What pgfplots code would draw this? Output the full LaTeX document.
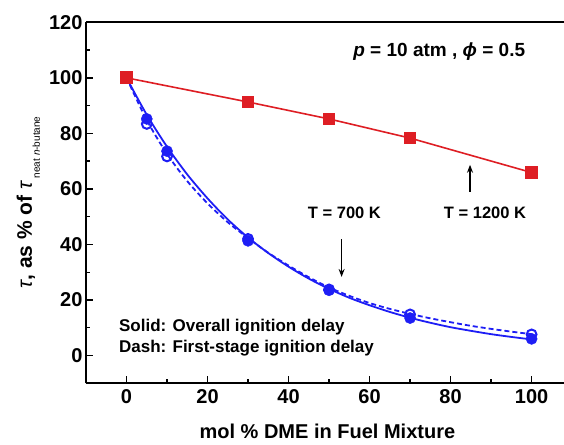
\documentclass[border=0pt]{standalone}
\usepackage{pgfplots}
\pgfplotsset{compat=1.18}
\usepackage{fontspec}
\setmainfont{Liberation Sans}
\usetikzlibrary{arrows.meta}

\definecolor{curvered}{RGB}{222,30,36}
\definecolor{curveblue}{RGB}{30,30,245}

% measured delays, normalised to neat n-butane
\pgfplotstableread{
x    y
0    100
30   91.3
50   85.2
70   78.3
100  65.9
}\hightemp
\pgfplotstableread{
x    y
0    100
5    85.2
10   73.6
30   41.3
50   23.5
70   13.5
100  6.0
}\overall
\pgfplotstableread{
x    y
0    100
5    83.4
10   71.7
30   42.0
50   23.8
70   14.8
100  7.6
}\firststage
% fitted curves
\pgfplotstableread{
x    y
0    100
5    86.7
10   75.2
15   65.2
20   56.6
25   49.0
30   42.5
35   36.9
40   32.0
45   27.7
50   24.0
55   20.8
60   18.1
65   15.7
70   13.6
75   11.8
80   10.2
85   8.9
90   7.7
95   6.7
100  5.8
}\overallfit
\pgfplotstableread{
x    y
0    100
5    84.8
10   72.6
15   62.8
20   54.8
25   48.0
30   42.3
35   37.0
40   32.4
45   28.2
50   24.5
55   21.5
60   18.9
65   16.8
70   15.0
75   13.4
80   12.0
85   10.7
90   9.6
95   8.6
100  7.7
}\firstfit

\begin{document}
\begin{tikzpicture}
\begin{axis}[
  at={(0,0)}, anchor=south west,
  scale only axis, width=478pt, height=361pt,
  xmin=-10, xmax=108, ymin=-10, ymax=120,
  axis x line=bottom, axis y line=left,
  x axis line style={-, line width=1.8pt},
  y axis line style={-, line width=1.8pt},
  xtick={0,20,...,100}, ytick={0,20,...,120},
  minor xtick={10,30,...,90}, minor ytick={-10,10,...,110},
  tick align=inside,
  major tick length=7pt, minor tick length=4pt,
  tick style={black, line width=1.4pt},
  /pgf/number format/assume math mode=true,
  ticklabel style={font=\fontsize{20}{24}\selectfont\bfseries},
  xticklabel style={yshift=-3pt},
  clip=false,
  xlabel={mol \% DME in Fuel Mixture},
  every axis x label/.style={at={(axis description cs:0.505,0)}, anchor=base,
    yshift=-55pt, font=\fontsize{20}{24}\selectfont\bfseries},
  ylabel={{\mdseries\itshape τ}, as \% of {\mdseries\itshape τ}\,\raisebox{-8pt}{\fontsize{10}{11}\selectfont\mdseries neat \textit{n}-butane}},
  every axis y label/.style={at={(axis description cs:-0.113,0.253)}, rotate=90,
    anchor=base west, font=\fontsize{21}{25}\selectfont\bfseries},
]
% frame line along the top
\draw[line width=1.8pt] (rel axis cs:0,1) -- (rel axis cs:1,1);

% fitted curves
\addplot[curveblue, line width=1.8pt, smooth] table {\overallfit};
\addplot[curveblue, line width=1.8pt, smooth, dash pattern=on 5pt off 3pt] table {\firstfit};

% blue data: overall (filled) and first stage (open)
\addplot[only marks, mark=*, mark size=5.6pt, curveblue, mark options={fill=curveblue}] table {\overall};
\addplot[only marks, mark=o, mark size=4.9pt, curveblue, mark options={line width=2pt}] table {\firststage};

% high-temperature delays
\addplot[curvered, line width=1.6pt, mark=square*, mark size=5.9pt,
  mark options={fill=curvered, draw=curvered, line width=0pt}] table {\hightemp};

% annotations
\node[anchor=base, font=\fontsize{19}{22}\selectfont\bfseries] at (axis cs:77.2,107.8)
  {\textit{p} = 10 atm , \textit{ϕ} = 0.5};
\node[anchor=base, font=\fontsize{16.5}{20}\selectfont\bfseries] at (axis cs:53.8,49.4) {T = 700 K};
\node[anchor=base, font=\fontsize{16.5}{20}\selectfont\bfseries] at (axis cs:88.5,49.4) {T = 1200 K};
\draw[-{Stealth[length=8pt,width=6pt]}, line width=1.7pt] (axis cs:53.1,41.8) -- (axis cs:53.1,28.3);
\draw[-{Stealth[length=8pt,width=6pt]}, line width=1.7pt] (axis cs:84.8,59) -- (axis cs:84.8,68.7);
\node[anchor=base west, font=\fontsize{17}{20}\selectfont\bfseries] at (axis cs:-2.7,8.7)
  {Solid: Overall ignition delay};
\node[anchor=base west, font=\fontsize{17}{20}\selectfont\bfseries] at (axis cs:-2.7,1.2)
  {Dash: First-stage ignition delay};
\end{axis}
\pgfresetboundingbox
\useasboundingbox (-86pt,-60.7pt) rectangle (478pt,383.3pt);
\end{tikzpicture}
\end{document}
